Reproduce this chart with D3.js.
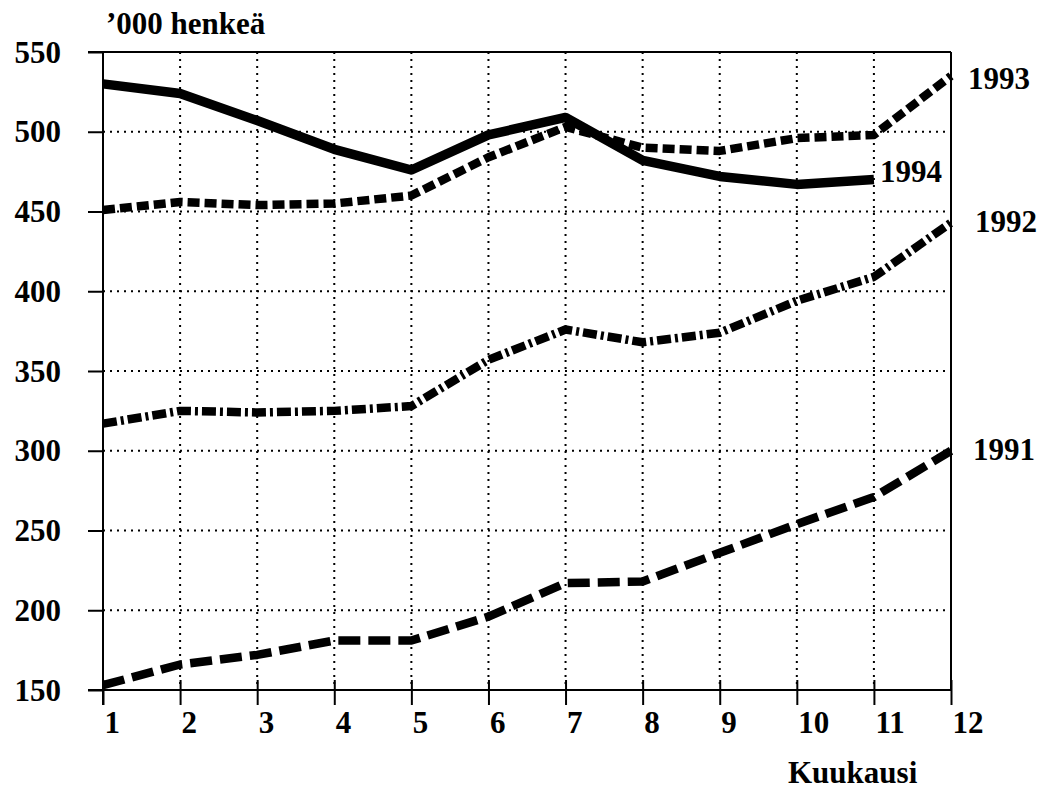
<!DOCTYPE html>
<html>
<head>
<meta charset="utf-8">
<title>Kuukausi</title>
<script src="https://cdn.jsdelivr.net/npm/d3@7"></script>
<style>
  body { margin: 0; background: #fff; }
  svg text { font-family: "Liberation Serif", "Times New Roman", serif; font-weight: bold; fill: #000; }
</style>
</head>
<body>
<div id="container"></div>
<script>
// values, '000 persons per month
var months = [1, 2, 3, 4, 5, 6, 7, 8, 9, 10, 11, 12];
var yTicks = [150, 200, 250, 300, 350, 400, 450, 500, 550];
var v1991 = [153, 166, 172, 181, 181, 196, 217, 218, 236, 254, 271, 300];
var v1992 = [317, 325, 324, 325, 328, 357, 376, 368, 374, 394, 409, 443];
var v1993 = [451, 456, 454, 455, 460, 484, 503, 490, 488, 496, 498, 535];
var v1994 = [530, 524, 507, 489, 476, 498, 509, 482, 472, 467, 470];
var yearNames = ['1991', '1992', '1993', '1994'];

var WIDTH = 1042, HEIGHT = 790;
var LEFT = 103, RIGHT = 951, TOP = 52, BOTTOM = 690;
var FONT = '31px';

var svg = d3.select('#container')
    .append('svg')
    .attr('width', WIDTH)
    .attr('height', HEIGHT);

var xscale = d3.scaleLinear().domain([1, 12]).range([LEFT, RIGHT]);
var yscale = d3.scaleLinear().domain([150, 550]).range([BOTTOM, TOP]);

// dotted grid
svg.append('g').selectAll('line')
    .data(yTicks.slice(1, -1))
    .enter().append('line')
    .attr('x1', LEFT).attr('x2', RIGHT)
    .attr('y1', function(d) { return yscale(d); })
    .attr('y2', function(d) { return yscale(d); })
    .style('stroke', '#000').style('stroke-width', 2)
    .style('stroke-dasharray', '2,5');

svg.append('g').selectAll('line')
    .data(months.slice(1, -1))
    .enter().append('line')
    .attr('y1', TOP).attr('y2', BOTTOM)
    .attr('x1', function(d) { return xscale(d); })
    .attr('x2', function(d) { return xscale(d); })
    .style('stroke', '#000').style('stroke-width', 2)
    .style('stroke-dasharray', '2,5');

// frame: top and right
svg.append('line').attr('x1', LEFT - 15).attr('x2', RIGHT).attr('y1', TOP).attr('y2', TOP)
    .style('stroke', '#000').style('stroke-width', 2);
svg.append('line').attr('x1', RIGHT).attr('x2', RIGHT).attr('y1', TOP).attr('y2', BOTTOM)
    .style('stroke', '#000').style('stroke-width', 2);

var y_axis = d3.axisLeft(yscale)
    .tickValues(yTicks)
    .tickSize(15)
    .tickSizeOuter(0)
    .tickPadding(27);

var yg = svg.append('g')
    .attr('transform', 'translate(' + LEFT + ',0)')
    .call(y_axis);
yg.selectAll('text').style('font-size', FONT).attr('dy', '0.33em');

var x_axis = d3.axisBottom(xscale)
    .tickValues(months)
    .tickSize(15)
    .tickSizeOuter(0)
    .tickFormat(d3.format('d'));

var xg = svg.append('g')
    .attr('transform', 'translate(0,' + BOTTOM + ')')
    .call(x_axis);
xg.selectAll('.tick line').attr('y1', -10);
xg.selectAll('text')
    .style('font-size', FONT)
    .attr('text-anchor', 'start')
    .attr('x', 1)
    .attr('y', 43)
    .attr('dy', 0);

svg.selectAll('.domain').style('stroke', '#000').style('stroke-width', 2);
svg.selectAll('.tick line').style('stroke', '#000').style('stroke-width', 2);
// left axis reaches from bottom tick to top frame, bottom axis starts at left tick
yg.select('.domain').attr('d', 'M0,' + (BOTTOM + 15) + 'V' + TOP);
xg.select('.domain').attr('d', 'M' + (LEFT - 15) + ',0H' + RIGHT);

var line = d3.line()
    .x(function(d, i) { return xscale(months[i]); })
    .y(function(d) { return yscale(d); });

var series = [
    { values: v1991, dash: '22,8', width: 8.5 },
    { values: v1992, dash: '14,4,3,4', width: 8.5 },
    { values: v1993, dash: '12,5', width: 8.5 },
    { values: v1994, dash: null, width: 9.5 }
];

series.forEach(function(s) {
    svg.append('path')
        .datum(s.values)
        .attr('d', line)
        .style('fill', 'none')
        .style('stroke', '#000')
        .style('stroke-width', s.width)
        .style('stroke-linejoin', 'round')
        .style('stroke-dasharray', s.dash);
});

// year labels next to line ends
var labelPos = [
    { x: 973, y: 460 },
    { x: 975, y: 232 },
    { x: 968, y: 89 },
    { x: 880, y: 182 }
];
yearNames.forEach(function(name, i) {
    svg.append('text')
        .attr('x', labelPos[i].x)
        .attr('y', labelPos[i].y)
        .style('font-size', FONT)
        .text(name);
});

svg.append('text')
    .attr('x', 106).attr('y', 34)
    .style('font-size', FONT)
    .text('\u2019000 henkeä');

svg.append('text')
    .attr('x', 788).attr('y', 783)
    .style('font-size', FONT)
    .text('Kuukausi');
</script>
</body>
</html>
